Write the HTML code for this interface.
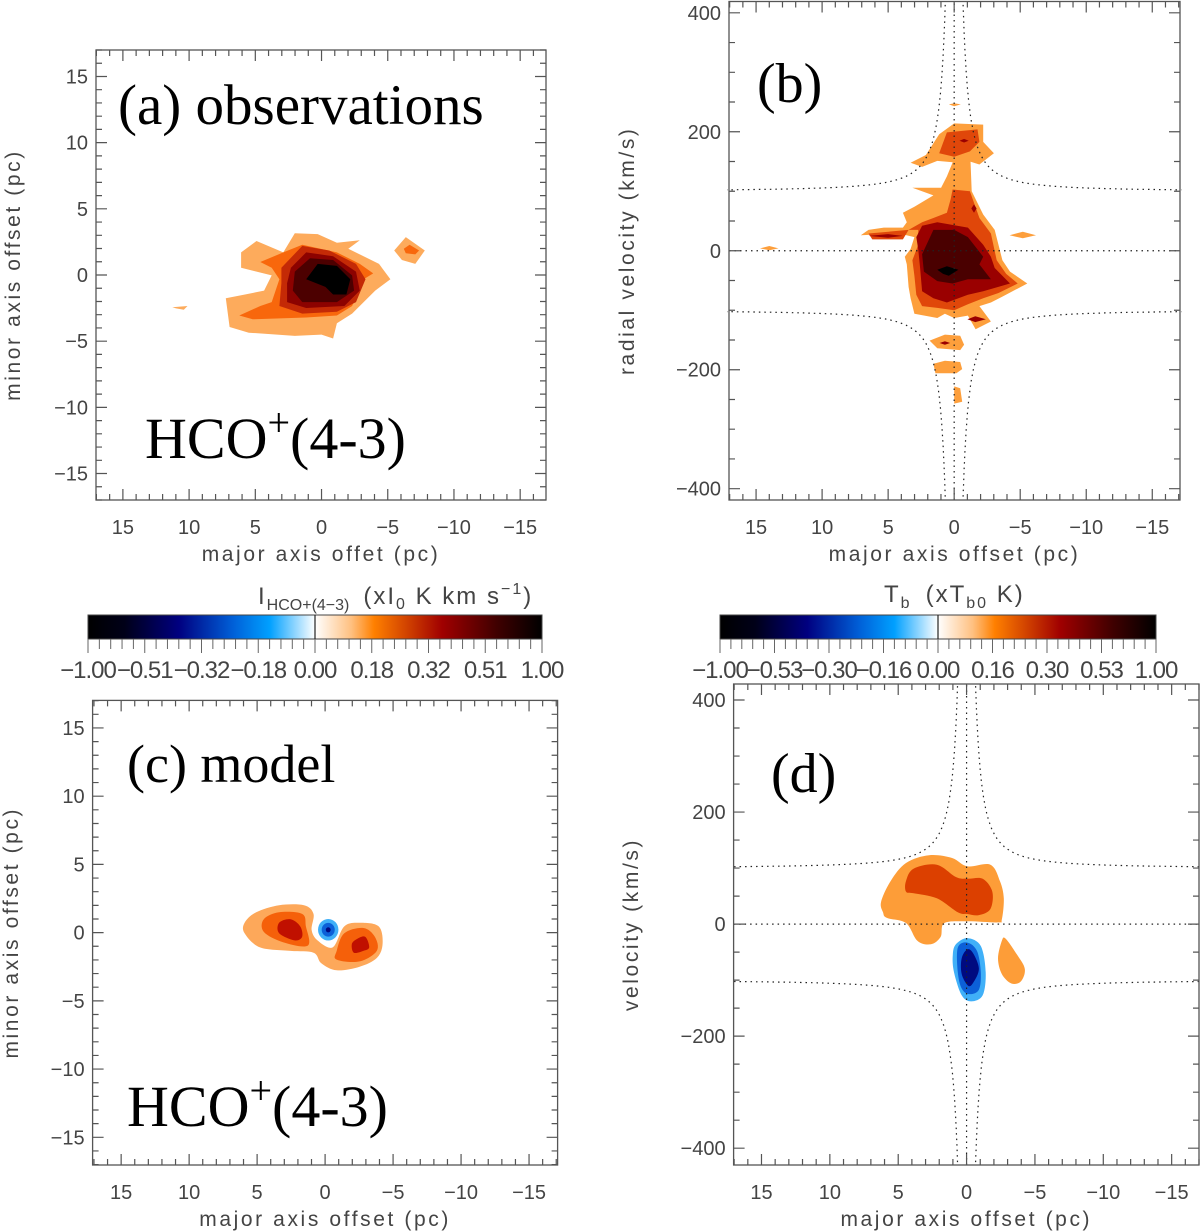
<!DOCTYPE html>
<html><head><meta charset="utf-8"><style>
html,body{margin:0;padding:0;background:#fff;}
svg{display:block;}
.tk{font-family:"Liberation Sans",sans-serif;font-size:20px;fill:#444;}
.ttl{font-family:"Liberation Sans",sans-serif;font-size:21px;fill:#444;letter-spacing:2.6px;}
.big{font-family:"Liberation Serif",serif;fill:#000;}
</style></head><body>
<svg id="fig" width="1200" height="1232" viewBox="0 0 1200 1232" xmlns="http://www.w3.org/2000/svg">
<defs>
<linearGradient id="cmap" x1="0" x2="1" y1="0" y2="0">
<stop offset="0" stop-color="#000000"/><stop offset="0.08" stop-color="#000018"/>
<stop offset="0.2" stop-color="#000080"/><stop offset="0.32" stop-color="#0060d8"/>
<stop offset="0.4" stop-color="#00a0ff"/><stop offset="0.5" stop-color="#ffffff"/>
<stop offset="0.58" stop-color="#ffc080"/><stop offset="0.63" stop-color="#ff8000"/>
<stop offset="0.78" stop-color="#a00000"/><stop offset="0.9" stop-color="#400000"/>
<stop offset="1" stop-color="#000000"/>
</linearGradient>
</defs>
</svg>
<script>
// ---- Data (contour polygons in data units: [major offset pc, minor offset pc | velocity km/s]) ----
const obsLevelColors = ['#fdab5c','#f8670c','#c42a06','#8c0200','#4c0000','#000000'];
const pvLevelColors = ['#fd9f3c','#e0470a','#9a0000','#4a0000','#000000'];
const modelColors = ['#fda85a','#f5600a','#c01000'];
const blueColors = ['#40b0f8','#0c60d8','#000a80'];
const dColors = ['#fd9d38','#dc4000'];
const curveC = 175;
const colorbarLabels1 = ['\u22121.00','\u22120.51','\u22120.32','\u22120.18','0.00','0.18','0.32','0.51','1.00'];
const colorbarLabels2 = ['\u22121.00','\u22120.53','\u22120.30','\u22120.16','0.00','0.16','0.30','0.53','1.00'];
const pcTicks = [15,10,5,0,-5,-10,-15];
const velTicks = [400,200,0,-200,-400];

const aL1 = [[6.07,1.71],[4.91,2.57],[2.89,1.71],[2.02,3.15],[0.29,3.09],[-1.16,2.43],[-2.89,2.63],[-2.02,1.99],[-4.34,0.84],[-5.2,-0.32],[-4.05,-1.18],[-2.31,-2.92],[-1.16,-3.64],[-0.87,-4.8],[0,-4.5],[2.02,-4.6],[5.49,-4.36],[6.94,-3.93],[7.23,-1.76],[5.78,-1.47],[4.34,-1.18],[3.76,-0.03],[6.07,0.55]];
const aL2 = [[4.62,0.98],[2.89,1.71],[1.45,2.28],[-1.16,1.71],[-2.89,0.84],[-3.9,0.12],[-3.18,-0.32],[-2.31,-2.34],[-1.16,-3.06],[1.16,-3.21],[5.2,-3.35],[6.21,-3.06],[4.62,-2.34],[3.76,-2.05],[3.18,-0.32],[3.76,0.55]];
const aL3 = [[3.03,0.55],[1.45,2.2],[-0.58,1.85],[-2.6,0.84],[-3.32,-0.32],[-2.6,-2.05],[-1.16,-2.77],[1.45,-2.92],[3.18,-2.34],[3.03,-0.61]];
const aL4 = [[2.31,0.55],[1.16,1.71],[-0.87,1.42],[-2.6,0.26],[-2.89,-1.18],[-1.73,-2.34],[1.16,-2.49],[2.6,-2.05],[2.6,-0.61]];
const aL5 = [[2.02,0.26],[0.87,1.27],[-0.87,1.13],[-2.31,-0.03],[-2.46,-1.18],[-1.16,-2.05],[1.45,-2.05],[2.17,-1.18]];
const aL6 = [[1.16,-0.32],[0.29,0.84],[-1.16,0.69],[-2.17,-0.32],[-1.88,-1.47],[-0.87,-1.47],[-0.29,-0.9]];
const aBlobR1 = [[-5.49,1.85],[-6.36,2.86],[-7.8,1.85],[-7.08,0.84],[-6.07,1.13]];
const aBlobR2 = [[-6.21,1.99],[-6.65,2.28],[-7.37,1.85],[-7.08,1.56],[-6.36,1.65]];
const aBlobL1 = [[11.27,-2.43],[10.12,-2.34],[10.4,-2.63],[10.98,-2.52]];

const bL1 = [[3.88,64],[3.01,74],[1.57,93],[3.16,106],[0.99,106],[0.55,125],[-0.17,164],[-1.19,177],[-1.33,100],[-2.2,61],[-3.07,35],[-3.65,-16],[-4.23,-35],[-5.54,-55],[-3.65,-77],[-2.78,-87],[-1.91,-93],[-2.78,-119],[-1.62,-132],[-1.04,-109],[0,-113],[0.7,-106],[1.28,-113],[3.01,-106],[3.3,-80],[3.45,-61],[3.59,-23],[3.74,-10],[3.3,3],[3.01,23],[4.17,29],[7.07,26],[6.49,35],[5.33,39],[3.88,39],[3.59,48]];
const bTop1 = [[3.3,148],[2.14,161],[1.13,196],[0,214],[-2.2,212],[-2.2,183],[-3.01,164],[-1.91,145],[-1.04,151],[-0.32,148],[1.28,151],[2.43,141]];
const bIsl1 = [[14.7,4],[14,8],[13.3,4],[14,1]];
const bIsl2 = [[-4.2,26],[-5.2,32],[-6.2,26],[-5.2,21]];
const bIsl3 = [[1.86,-151],[0.7,-141],[-0.46,-143],[-0.75,-158],[-0.46,-167],[1.28,-164]];
const bIsl4 = [[1.57,-190],[0.7,-185],[-0.46,-187],[-0.61,-199],[-0.17,-206],[1.42,-206]];
const bIsl5 = [[0,-228],[-0.46,-231],[-0.61,-254],[0,-257]];
const bIsl6 = [[0.4,246],[0,248],[-0.5,246],[0,243]];
const bL2 = [[0.12,103],[-1.19,100],[-1.91,55],[-2.78,29],[-3.22,-16],[-3.94,-39],[-4.81,-55],[-3.36,-71],[-2.2,-80],[-1.04,-90],[0,-100],[1.28,-96],[2.43,-93],[2.87,-74],[3.01,-42],[3.16,-16],[2.72,10],[2.72,35],[3.45,35],[3.88,19],[6.2,19],[6.49,29],[3.45,35],[2.43,48],[1.57,55],[0.55,64],[0.26,87]];
const bTop2 = [[1.13,164],[0.55,199],[-1.77,204],[-1.91,183],[-1.19,167],[0,158]];
const bL3 = [[2.43,42],[1.28,48],[-1.04,39],[-2.2,10],[-2.78,-10],[-3.07,-29],[-4.23,-55],[-2.2,-68],[-1.04,-74],[0.55,-87],[1.57,-80],[2.43,-68],[2.58,-29],[2.72,3],[2.87,23]];
const bL4 = [[1.57,35],[0,35],[-1.04,23],[-2.2,-10],[-1.91,-23],[-2.78,-48],[-1.04,-48],[0.12,-55],[1.28,-51],[2.29,-35],[2.43,-6]];
const bL5 = [[1.28,-32],[0.55,-26],[-0.32,-32],[0.41,-42],[0.84,-39]];
const bSpot1 = [[6.49,25],[5.0,28],[3.9,25],[5.0,22]];
const bSpot2 = [[-1.3,71],[-1.5,78],[-1.7,71],[-1.5,64]];
const bSpot3 = [[-0.4,185],[-0.75,188],[-1.1,185],[-0.75,182]];
const bSpot4 = [[-1.0,-115],[-1.6,-110],[-2.4,-115],[-1.6,-120]];
const bSpot5 = [[1.1,-155],[0.7,-152],[0.3,-155],[0.7,-158]];

const cL1 = [[5.92,0.72],[5.07,1.49],[3.38,2.01],[1.55,2.01],[0.85,1.37],[0.99,0.21],[0.56,-0.57],[-0.56,-1.08],[-1.41,0.46],[-2.54,0.72],[-3.94,0.46],[-4.23,-0.82],[-3.8,-1.86],[-2.54,-2.5],[-0.85,-2.76],[0.28,-2.24],[0.85,-1.47],[2.54,-1.34],[4.79,-1.08],[5.92,-0.05]];
const cL2a = [[4.51,0.98],[3.38,1.49],[1.69,1.37],[1.41,0.46],[1.27,-0.95],[3.1,-0.7],[4.51,0.05]];
const cL2b = [[-0.85,-1.34],[-1.41,-0.05],[-2.82,0.34],[-3.66,-0.31],[-3.8,-1.34],[-2.54,-2.11],[-0.85,-1.98]];
const cL3a = [[3.38,0.72],[2.54,0.98],[1.83,0.46],[1.69,-0.31],[2.25,-0.57],[3.38,-0.05]];
const cL3b = [[-1.97,-0.82],[-2.39,-0.44],[-2.96,-0.31],[-3.24,-1.08],[-2.82,-1.34],[-2.11,-1.47]];
const cBlueCenter = [-0.23,0.21];
const cBlueRadii = [0.75,0.48,0.18];

const dL1 = [[6.25,40],[5.55,77],[4.43,109],[2.75,123],[1.06,118],[-0.06,103],[-1.74,106],[-2.44,77],[-2.72,46],[-2.58,8],[-2.3,3],[-0.06,5],[1.62,2],[1.9,-23],[2.61,-36],[3.59,-30],[4.43,2],[5.83,11],[6.11,21]];
const dL2 = [[4.43,77],[3.87,99],[2.18,106],[0.78,84],[-0.06,81],[-1.18,81],[-1.88,58],[-1.74,27],[-0.9,16],[-0.06,18],[0.64,21],[2.18,46],[3.87,55],[4.43,58]];
const dRight = [[-2.58,-30],[-2.86,-26],[-3.7,-55],[-4.26,-80],[-3.98,-102],[-3.28,-106],[-2.58,-89],[-2.3,-61]];
const dBlue1 = [[0.78,-36],[-0.06,-25],[-1.04,-39],[-1.4,-86],[-1.18,-127],[-0.34,-138],[0.36,-127],[0.92,-86],[1.01,-55]];
const dBlue2 = [[0.64,-42],[-0.06,-33],[-0.76,-48],[-1.04,-86],[-0.9,-117],[-0.2,-125],[0.36,-115],[0.64,-86]];
const dBlue3 = [[0.36,-61],[-0.06,-45],[-0.48,-52],[-0.9,-80],[-0.48,-105],[-0.11,-110],[0.36,-89]];

// ---- Drawing ----
const NS = 'http://www.w3.org/2000/svg';
const fig = document.getElementById('fig');
function mk(tag, attrs, parent){ const e=document.createElementNS(NS,tag); for(const k in attrs) e.setAttribute(k,attrs[k]); (parent||fig).appendChild(e); return e; }

function makeAxes(box, xd, yd){
  const sx = v => box.x0 + (v - xd[0])/(xd[1]-xd[0])*(box.x1-box.x0);
  const sy = v => box.y1 - (v - yd[0])/(yd[1]-yd[0])*(box.y1-box.y0);
  return {sx, sy};
}
function polyPath(ax, pts, smooth){
  const p = pts.map(q=>[ax.sx(q[0]), ax.sy(q[1])]);
  if(!smooth) return 'M'+p.map(q=>q[0].toFixed(1)+','+q[1].toFixed(1)).join('L')+'Z';
  const n=p.length; let d='M'+p[0][0].toFixed(1)+','+p[0][1].toFixed(1);
  for(let i=0;i<n;i++){
    const p0=p[(i-1+n)%n],p1=p[i],p2=p[(i+1)%n],p3=p[(i+2)%n];
    const c1=[p1[0]+(p2[0]-p0[0])/6,p1[1]+(p2[1]-p0[1])/6];
    const c2=[p2[0]-(p3[0]-p1[0])/6,p2[1]-(p3[1]-p1[1])/6];
    d+='C'+c1.map(v=>v.toFixed(1)).join(',')+' '+c2.map(v=>v.toFixed(1)).join(',')+' '+p2[0].toFixed(1)+','+p2[1].toFixed(1);
  }
  return d+'Z';
}
function fillPoly(g, ax, pts, color, smooth, name){
  const e = mk('path',{d:polyPath(ax,pts,smooth),fill:color},g);
  
  
}

function frame(g, box, ax, xd, yd, xMajor, xMinor, yMajor, yMinor, yLabels, xTitle, yTitle, yTitleX){
  const r = mk('rect',{x:box.x0,y:box.y0,width:box.x1-box.x0,height:box.y1-box.y0,fill:'none',stroke:'#555','stroke-width':1.3},g);
  
  
  let d='';
  const xmin=Math.min(xd[0],xd[1]), xmax=Math.max(xd[0],xd[1]);
  for(let v=Math.ceil(xmin/xMinor)*xMinor; v<=xmax; v+=xMinor){
    const X=ax.sx(v), L=(Math.abs(v/xMajor-Math.round(v/xMajor))<1e-6)?11:6;
    d+=`M${X},${box.y1}v${-L}M${X},${box.y0}v${L}`;
  }
  for(let v=Math.ceil(yd[0]/yMinor)*yMinor; v<=yd[1]; v+=yMinor){
    const Y=ax.sy(v), L=(Math.abs(v/yMajor-Math.round(v/yMajor))<1e-6)?11:6;
    d+=`M${box.x0},${Y}h${L}M${box.x1},${Y}h${-L}`;
  }
  const t = mk('path',{d,stroke:'#555','stroke-width':1.2,fill:'none'},g);
  
  
  pcTicks.forEach(v=>{
    const e=mk('text',{x:ax.sx(v),y:box.y1+34,'text-anchor':'middle',class:'tk'},g);
    e.textContent = v<0 ? '\u2212'+(-v) : String(v);
    
    
  });
  yLabels.forEach(v=>{
    const e=mk('text',{x:box.x0-8,y:ax.sy(v)+7,'text-anchor':'end',class:'tk'},g);
    e.textContent = v<0 ? '\u2212'+(-v) : String(v);
    
    
  });
  const xt=mk('text',{x:(box.x0+box.x1)/2,y:box.y1+61,'text-anchor':'middle',class:'ttl'},g);
  xt.textContent=xTitle;
  
  
  const cy=(box.y0+box.y1)/2;
  const yt=mk('text',{x:yTitleX,y:cy,'text-anchor':'middle',class:'ttl',transform:`rotate(-90 ${yTitleX} ${cy})`},g);
  yt.textContent=yTitle;
  
  
}

function dottedGuides(g, ax, xd, yd){
  let d='';
  d+=`M${ax.sx(xd[0])},${ax.sy(0)}H${ax.sx(xd[1])}`;
  d+=`M${ax.sx(0)},${ax.sy(yd[0])}V${ax.sy(yd[1])}`;
  [1,-1].forEach(sgn=>{
    [1,-1].forEach(side=>{
      let pts=[];
      for(let i=0;i<=400;i++){
        const x = side*(17.2*Math.pow(i/400,2.2));
        const ax_ = Math.abs(x); if(ax_<0.3) continue;
        let v = sgn*(100 + curveC/Math.pow(ax_,1.5));
        if(Math.abs(v)>yd[1]) continue;
        pts.push([ax.sx(x),ax.sy(v)]);
      }
      d+='M'+pts.map(p=>p[0].toFixed(1)+','+p[1].toFixed(1)).join('L');
    });
  });
  const e=mk('path',{d,stroke:'#222','stroke-width':1.2,'stroke-dasharray':'1.5 4',fill:'none'},g);
  
  
}

function colorbar(x0,x1,y0,y1,labels,name){
  const g=mk('g',{});
  
  
  mk('rect',{x:x0,y:y0,width:x1-x0,height:y1-y0,fill:'url(#cmap)',stroke:'#444','stroke-width':1},g);
  mk('line',{x1:(x0+x1)/2,x2:(x0+x1)/2,y1:y0,y2:y1,stroke:'#222','stroke-width':1.2},g);
  let d='';
  for(let i=0;i<=40;i++){ const X=x0+(x1-x0)*i/40; d+=`M${X},${y1}v${i%5==0?14:10}`; }
  mk('path',{d,stroke:'#666','stroke-width':1},g);
  labels.forEach((l,i)=>{
    const e=mk('text',{x:x0+(x1-x0)*i/8,y:y1+39,'text-anchor':'middle',class:'tk',style:'font-size:24px;letter-spacing:-1px'},g);
    e.textContent=l;
    
    
  });
  return g;
}

// Panel a
(function(){
  const box={x0:96,x1:546,y0:50,y1:500}, xd=[17.03,-16.95], yd=[-17,17];
  const ax=makeAxes(box,xd,yd);
  const g=mk('g',{});  
  [aL1,aL2,aL3,aL4,aL5,aL6].forEach((p,i)=>fillPoly(g,ax,p,obsLevelColors[i],false,'contour-level-'+(i+1)));
  fillPoly(g,ax,aBlobR1,obsLevelColors[0],false,'contour-blob-right');
  fillPoly(g,ax,aBlobR2,obsLevelColors[1],false,'contour-blob-right-inner');
  fillPoly(g,ax,aBlobL1,obsLevelColors[0],false,'contour-blob-left');
  frame(g,box,ax,xd,yd,5,1,5,1,[15,10,5,0,-5,-10,-15],'major axis offet (pc)','minor axis offset (pc)',20);
  const t=mk('text',{x:118,y:124,class:'big','font-size':57},g); t.textContent='(a) observations';
   
  const h=mk('text',{x:145,y:458,class:'big','font-size':58},g);
  h.innerHTML='HCO<tspan dy="-22" font-size="40">+</tspan><tspan dy="22">(4-3)</tspan>';
   
})();

// Panel b
(function(){
  const box={x0:729,x1:1180,y0:1.5,y1:500}, xd=[17.05,-17.1], yd=[-419,419];
  const ax=makeAxes(box,xd,yd);
  const g=mk('g',{});  
  fillPoly(g,ax,bL1,pvLevelColors[0],false,'pv-level-1');
  fillPoly(g,ax,bTop1,pvLevelColors[0],false,'pv-top-lobe');
  [bIsl1,bIsl2,bIsl3,bIsl4,bIsl5,bIsl6].forEach(p=>fillPoly(g,ax,p,pvLevelColors[0],false,'pv-island'));
  fillPoly(g,ax,bL2,pvLevelColors[1],false,'pv-level-2');
  fillPoly(g,ax,bTop2,pvLevelColors[1],false,'pv-top-lobe-inner');
  fillPoly(g,ax,bL3,pvLevelColors[2],false,'pv-level-3');
  fillPoly(g,ax,bL4,pvLevelColors[3],false,'pv-level-4');
  fillPoly(g,ax,bL5,pvLevelColors[4],false,'pv-level-5');
  [bSpot1,bSpot2,bSpot3,bSpot4,bSpot5].forEach(p=>fillPoly(g,ax,p,pvLevelColors[2],false,'pv-spot'));
  dottedGuides(g,ax,xd,yd);
  frame(g,box,ax,xd,yd,5,1,200,50,velTicks,'major axis offset (pc)','radial velocity (km/s)',634);
  const t=mk('text',{x:757,y:102,class:'big','font-size':56},g); t.textContent='(b)';
   
})();

// Colorbars
colorbar(88,542,615,639,colorbarLabels1,'colorbar-intensity');
colorbar(720,1156,615,639,colorbarLabels2,'colorbar-brightness');
(function(){
  const t1=mk('text',{x:258,y:604,class:'ttl',style:'font-size:24px;letter-spacing:2px'});
  t1.innerHTML='I<tspan dy="6" font-size="16" letter-spacing="0">HCO+(4\u22123)</tspan><tspan dy="-6" dx="14">(xI</tspan><tspan dy="5" font-size="16">0</tspan><tspan dy="-5"> K km s</tspan><tspan dy="-10" font-size="16">\u22121</tspan><tspan dy="10">)</tspan>';
   
  const t2=mk('text',{x:884,y:602,class:'ttl',style:'font-size:24px;letter-spacing:2px'});
  t2.innerHTML='T<tspan dy="6" font-size="16">b</tspan><tspan dy="-6" dx="14">(xT</tspan><tspan dy="6" font-size="16">b0</tspan><tspan dy="-6"> K)</tspan>';
   
})();

// Panel c
(function(){
  const box={x0:92.6,x1:557.6,y0:700.4,y1:1165}, xd=[17.1,-17.1], yd=[-17.03,17.02];
  const ax=makeAxes(box,xd,yd);
  const g=mk('g',{});  
  fillPoly(g,ax,cL1,modelColors[0],true,'model-level-1');
  fillPoly(g,ax,cL2a,modelColors[1],true,'model-level-2-left');
  fillPoly(g,ax,cL2b,modelColors[1],true,'model-level-2-right');
  fillPoly(g,ax,cL3a,modelColors[2],true,'model-level-3-left');
  fillPoly(g,ax,cL3b,modelColors[2],true,'model-level-3-right');
  cBlueRadii.forEach((r,i)=>{
    const e=mk('ellipse',{cx:ax.sx(cBlueCenter[0]),cy:ax.sy(cBlueCenter[1]),rx:Math.abs(ax.sx(r)-ax.sx(0)),ry:Math.abs(ax.sy(r*1.05)-ax.sy(0)),fill:blueColors[i]},g);
    
    
  });
  frame(g,box,ax,xd,yd,5,1,5,1,[15,10,5,0,-5,-10,-15],'major axis offset (pc)','minor axis offset (pc)',18);
  const t=mk('text',{x:127,y:782,class:'big','font-size':54},g); t.textContent='(c) model';
   
  const h=mk('text',{x:127,y:1126,class:'big','font-size':58},g);
  h.innerHTML='HCO<tspan dy="-22" font-size="40">+</tspan><tspan dy="22">(4-3)</tspan>';
   
})();

// Panel d
(function(){
  const box={x0:733.6,x1:1199,y0:684,y1:1165}, xd=[17.04,-17.0], yd=[-430,428.6];
  const ax=makeAxes(box,xd,yd);
  const g=mk('g',{});  
  fillPoly(g,ax,dL1,dColors[0],true,'pv-model-level-1');
  fillPoly(g,ax,dL2,dColors[1],true,'pv-model-level-2');
  fillPoly(g,ax,dRight,dColors[0],true,'pv-model-right-blob');
  fillPoly(g,ax,dBlue1,blueColors[0],true,'pv-absorption-1');
  fillPoly(g,ax,dBlue2,blueColors[1],true,'pv-absorption-2');
  fillPoly(g,ax,dBlue3,blueColors[2],true,'pv-absorption-3');
  dottedGuides(g,ax,xd,yd);
  frame(g,box,ax,xd,yd,5,1,200,50,velTicks,'major axis offset (pc)','velocity (km/s)',638);
  const t=mk('text',{x:771,y:792,class:'big','font-size':56},g); t.textContent='(d)';
   
})();
</script>
</body></html>
